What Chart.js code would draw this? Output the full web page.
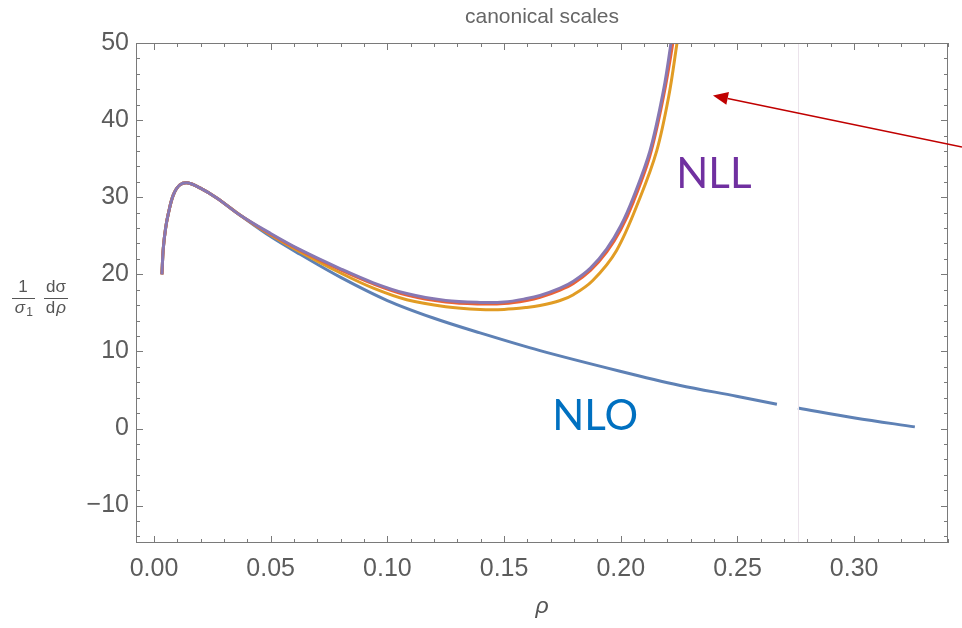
<!DOCTYPE html>
<html>
<head>
<meta charset="utf-8">
<script src="https://cdn.jsdelivr.net/npm/chart.js@4.4.0/dist/chart.umd.min.js"></script>
<style>
  html, body { margin: 0; padding: 0; background: white; }
</style>
</head>
<body>
<canvas id="rhoCanvas" width="962" height="628"></canvas>
<script>
// --- data ---

// low-rho part where all four curves lie on top of each other
const lowRho = [0.0034, 0.0040, 0.0050, 0.0061, 0.0083, 0.0111, 0.0147, 0.0197, 0.0269, 0.0368];
const lowVal = [20.0, 23.4, 26.0, 27.8, 30.3, 31.6, 31.85, 31.2, 29.9, 27.7];

// NLO (blue), with a short break near rho = 0.27
const nloRho = [0.050, 0.0626, 0.080, 0.100, 0.120, 0.1397, 0.1654, 0.1997, 0.225, 0.2496, 0.2669, 0.271, 0.2759, 0.3003, 0.3260];
const nloVal = [24.9, 22.6, 19.6, 16.6, 14.3, 12.4, 10.1, 7.43, 5.62, 4.19, 3.15, null, 2.67, 1.37, 0.21];

// NLL curves (orange, red, purple)
const orangeRho = [0.050, 0.0626, 0.0797, 0.094, 0.1083, 0.125, 0.1397, 0.150, 0.1597, 0.1654, 0.174, 0.1797, 0.188, 0.1982, 0.2082, 0.2154, 0.2205, 0.2240, 0.2265];
const orangeVal = [25.1, 22.9, 20.2, 18.2, 16.7, 15.8, 15.45, 15.45, 15.7, 15.95, 16.6, 17.35, 19.2, 23.1, 29.9, 36.0, 43.0, 49.8, 55.0];

const redRho = [0.050, 0.0626, 0.0797, 0.094, 0.1083, 0.125, 0.1397, 0.150, 0.1597, 0.1654, 0.174, 0.1797, 0.187, 0.194, 0.200, 0.2054, 0.2125, 0.2182, 0.2222, 0.2245];
const redVal = [25.2, 23.1, 20.6, 18.75, 17.3, 16.4, 16.15, 16.2, 16.6, 17.0, 17.95, 18.8, 20.5, 22.9, 25.8, 29.4, 35.4, 42.9, 49.8, 55.0];

const purpleRho = [0.050, 0.0626, 0.0797, 0.094, 0.1083, 0.125, 0.1397, 0.150, 0.1597, 0.1654, 0.174, 0.1797, 0.187, 0.194, 0.200, 0.2054, 0.2125, 0.2182, 0.2214, 0.2235];
const purpleVal = [25.3, 23.2, 20.75, 18.9, 17.5, 16.6, 16.35, 16.4, 16.85, 17.25, 18.2, 19.1, 20.8, 23.3, 26.3, 30.0, 36.0, 43.7, 49.8, 55.0];

// axes
const xRange = [-0.0077, 0.3402];
const yRange = [-14.85, 50];
const xTicks = [0.00, 0.05, 0.10, 0.15, 0.20, 0.25, 0.30];
const yTicks = [-10, 0, 10, 20, 30, 40, 50];
const xMinorStep = 0.01;
const yMinorStep = 2;

// annotations (data coordinates)
const seamRho = 0.276;
const nllLabel = { text: 'NLL', x: 0.2399, y: 33.0, color: '#7030A0' };
const nloLabel = { text: 'NLO', x: 0.189, y: 1.6, color: '#0070C0' };
const arrowTip = { x: 0.2395, y: 43.2 };
const arrowTail = { x: 0.3462, y: 36.5 };

// turn two arrays into points
const toPoints = (rho, val) => rho.map((r, i) => ({ x: r, y: val[i] }));

const fontFamily = '"Liberation Sans", Arial, sans-serif';
const tickGrey = '#5c5c5c';

// frame, inside ticks, titles and annotations
const decorPlugin = {
  id: 'decor',
  afterDatasetsDraw(chart) {
    const ctx = chart.ctx;
    const a = chart.chartArea;
    const xs = chart.scales.x;
    const ys = chart.scales.y;
    ctx.save();

    // faint seam line
    const sx = Math.round(xs.getPixelForValue(seamRho)) + 0.5;
    ctx.strokeStyle = '#ebe3eb';
    ctx.lineWidth = 1;
    ctx.beginPath();
    ctx.moveTo(sx, a.top);
    ctx.lineTo(sx, a.bottom);
    ctx.stroke();

    // frame
    ctx.strokeStyle = '#7a7a7a';
    ctx.lineWidth = 1;
    ctx.strokeRect(Math.round(a.left) + 0.5, Math.round(a.top) + 0.5,
      Math.round(a.right - a.left) - 1, Math.round(a.bottom - a.top) - 1);

    // ticks pointing inward on all four sides
    const drawX = (v, len) => {
      const px = Math.round(xs.getPixelForValue(v)) + 0.5;
      ctx.beginPath();
      ctx.moveTo(px, a.bottom); ctx.lineTo(px, a.bottom - len);
      ctx.moveTo(px, a.top); ctx.lineTo(px, a.top + len);
      ctx.stroke();
    };
    const drawY = (v, len) => {
      const py = Math.round(ys.getPixelForValue(v)) + 0.5;
      ctx.beginPath();
      ctx.moveTo(a.left, py); ctx.lineTo(a.left + len, py);
      ctx.moveTo(a.right, py); ctx.lineTo(a.right - len, py);
      ctx.stroke();
    };
    for (let v = 0; v <= xRange[1] + 1e-9; v += xMinorStep) {
      const isMajor = xTicks.some(t => Math.abs(t - v) < 1e-6);
      drawX(v, isMajor ? 7 : 4);
    }
    for (let v = -14; v <= yRange[1] + 1e-9; v += yMinorStep) {
      const isMajor = yTicks.some(t => Math.abs(t - v) < 1e-6);
      drawY(v, isMajor ? 7 : 4);
    }

    // title over the plot area
    ctx.fillStyle = '#666666';
    ctx.font = '21px ' + fontFamily;
    ctx.textAlign = 'center';
    ctx.textBaseline = 'alphabetic';
    ctx.fillText('canonical scales', (a.left + a.right) / 2, 22.5);

    // x axis title
    ctx.fillStyle = '#555555';
    ctx.font = 'italic 23px ' + fontFamily;
    ctx.fillText('\u03C1', (a.left + a.right) / 2, 613);

    // y axis title: 1/sigma_1 dsigma/drho
    ctx.font = '17px ' + fontFamily;
    ctx.fillText('1', 23, 291.5);
    ctx.fillText('d\u03C3', 56, 291.5);
    ctx.font = 'italic 17px ' + fontFamily;
    ctx.fillText('\u03C3', 20, 312.5);
    ctx.font = '12px ' + fontFamily;
    ctx.fillText('1', 29.5, 315.5);
    ctx.font = '17px ' + fontFamily;
    ctx.fillText('d', 50.5, 312.5);
    ctx.font = 'italic 17px ' + fontFamily;
    ctx.fillText('\u03C1', 61, 312.5);
    ctx.strokeStyle = '#555555';
    ctx.lineWidth = 1;
    ctx.beginPath();
    ctx.moveTo(12, 298.5); ctx.lineTo(35, 298.5);
    ctx.moveTo(44, 298.5); ctx.lineTo(68, 298.5);
    ctx.stroke();

    // curve labels
    ctx.font = '42px Lato, "Open Sans", sans-serif';
    ctx.textBaseline = 'middle';
    [nllLabel, nloLabel].forEach(l => {
      ctx.fillStyle = l.color;
      ctx.fillText(l.text, xs.getPixelForValue(l.x), ys.getPixelForValue(l.y));
    });

    // red arrow
    const tx = xs.getPixelForValue(arrowTip.x), ty = ys.getPixelForValue(arrowTip.y);
    const fx = xs.getPixelForValue(arrowTail.x), fy = ys.getPixelForValue(arrowTail.y);
    const ang = Math.atan2(ty - fy, tx - fx);
    const headLen = 15, headHalf = 6.5;
    const bx = tx - headLen * Math.cos(ang), by = ty - headLen * Math.sin(ang);
    ctx.strokeStyle = '#C00000';
    ctx.fillStyle = '#C00000';
    ctx.lineWidth = 1.5;
    ctx.beginPath();
    ctx.moveTo(fx, fy); ctx.lineTo(bx, by);
    ctx.stroke();
    ctx.beginPath();
    ctx.moveTo(tx, ty);
    ctx.lineTo(bx + headHalf * Math.sin(ang), by - headHalf * Math.cos(ang));
    ctx.lineTo(bx - headHalf * Math.sin(ang), by + headHalf * Math.cos(ang));
    ctx.closePath();
    ctx.fill();

    ctx.restore();
  }
};

// build datasets
const lowPoints = toPoints(lowRho, lowVal);
const makeSet = (label, rho, val, color, order) => ({
  label: label,
  data: lowPoints.concat(toPoints(rho, val)),
  borderColor: color,
  backgroundColor: color,
  borderWidth: 3,
  pointRadius: 0,
  tension: 0.35,
  spanGaps: false,
  order: order
});

const data = {
  datasets: [
    makeSet('NLL (purple)', purpleRho, purpleVal, '#8778B3', 1),
    makeSet('NLL (red)', redRho, redVal, '#EB6235', 2),
    makeSet('NLL (orange)', orangeRho, orangeVal, '#E19C24', 3),
    makeSet('NLO', nloRho, nloVal, '#5E81B5', 4)
  ]
};

const options = {
  responsive: false,
  animation: false,
  events: [],
  layout: {
    padding: { left: 0, right: 14, top: 43, bottom: 0 }
  },
  plugins: {
    legend: { display: false },
    title: { display: false },
    tooltip: { enabled: false }
  },
  scales: {
    x: {
      type: 'linear',
      min: xRange[0],
      max: xRange[1],
      grid: { display: false, drawTicks: false },
      border: { display: false },
      afterBuildTicks: (axis) => { axis.ticks = xTicks.map(v => ({ value: v })); },
      afterFit: (scale) => { scale.height = 85; },
      ticks: {
        color: tickGrey,
        padding: 11,
        maxRotation: 0,
        autoSkip: false,
        font: { family: fontFamily, size: 25 },
        callback: (value) => value.toFixed(2)
      }
    },
    y: {
      type: 'linear',
      min: yRange[0],
      max: yRange[1],
      grid: { display: false, drawTicks: false },
      border: { display: false },
      afterBuildTicks: (axis) => { axis.ticks = yTicks.map(v => ({ value: v })); },
      afterFit: (scale) => { scale.width = 136; },
      ticks: {
        color: tickGrey,
        padding: 7,
        autoSkip: false,
        font: { family: fontFamily, size: 25 },
        callback: (value) => value < 0 ? '\u2212' + Math.abs(value) : String(value)
      }
    }
  }
};

const config = {
  type: 'line',
  data,
  options: options,
  plugins: [decorPlugin]
};

const rhoChart = new Chart(document.getElementById('rhoCanvas'), config);
</script>
</body>
</html>
